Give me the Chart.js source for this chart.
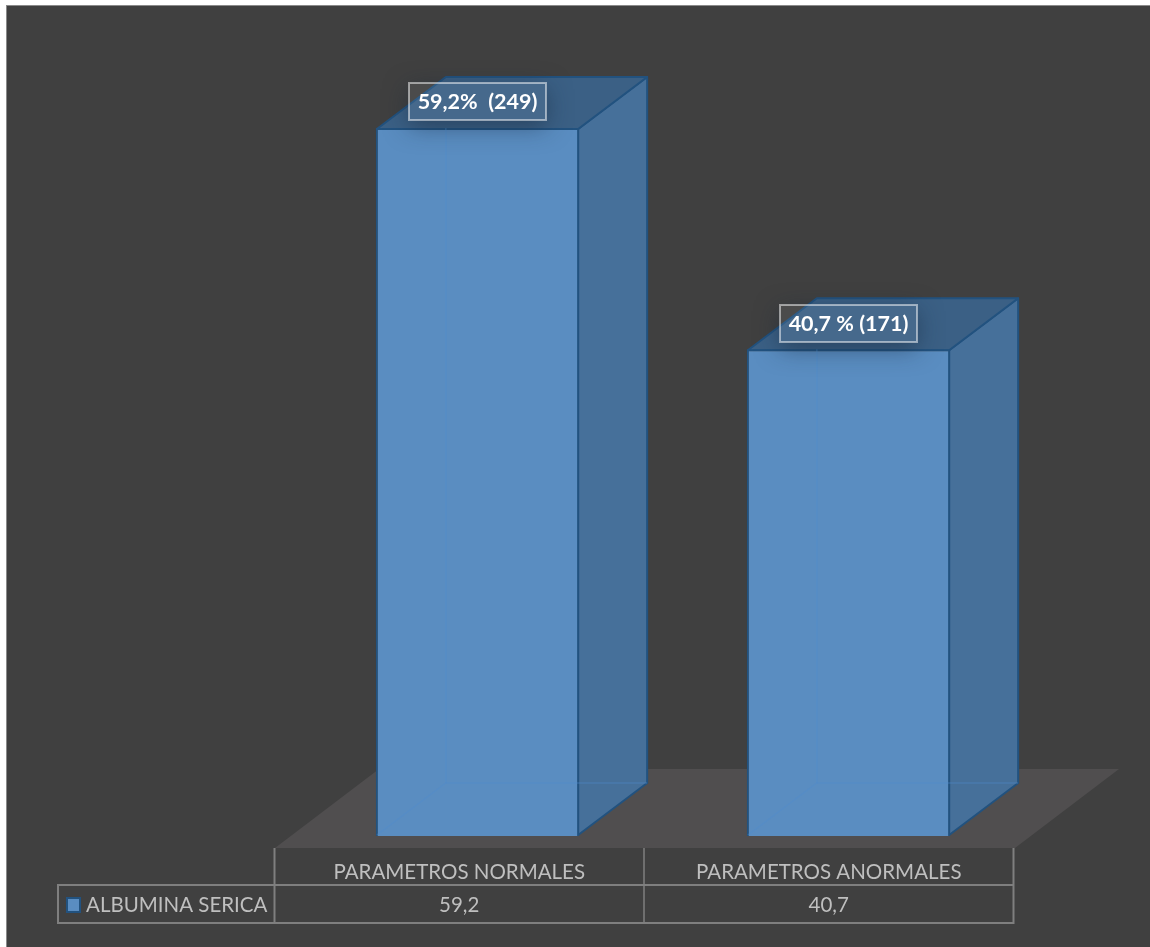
<!DOCTYPE html>
<html>
<head>
<meta charset="utf-8">
<script src="https://cdn.jsdelivr.net/npm/chart.js@4/dist/chart.umd.min.js"></script>
<style>
html,body{margin:0;padding:0;background:#fff;overflow:hidden}
#wrap{position:absolute;left:0;top:0;width:1150px;height:947px}
</style>
</head>
<body>
<div id="wrap"><canvas id="c" width="1150" height="947"></canvas></div>
<script>
const categories = ['PARAMETROS NORMALES', 'PARAMETROS ANORMALES'];
const seriesName = 'ALBUMINA SERICA';
const seriesValues = [59.2, 40.7];
const tableValues = ['59,2', '40,7'];
const dataLabels = ['59,2%  (249)', '40,7 % (171)'];

const DX = 69, DY = -52;
const EDGE = '#22527f';
const FONT = 'Lato, Carlito, sans-serif';

function poly(ctx, pts, fill, stroke, lw) {
  ctx.beginPath();
  pts.forEach((p, i) => i ? ctx.lineTo(p[0], p[1]) : ctx.moveTo(p[0], p[1]));
  ctx.closePath();
  if (fill) { ctx.fillStyle = fill; ctx.fill(); }
  if (stroke) { ctx.strokeStyle = stroke; ctx.lineWidth = lw || 2; ctx.lineJoin = 'round'; ctx.stroke(); }
}
function line(ctx, x1, y1, x2, y2, col, lw) {
  ctx.beginPath(); ctx.moveTo(x1, y1); ctx.lineTo(x2, y2);
  ctx.strokeStyle = col; ctx.lineWidth = lw; ctx.stroke();
}

const scene = {
  id: 'scene',
  beforeDraw(chart) {
    const ctx = chart.ctx;
    ctx.save();
    // page and chart frame
    ctx.fillStyle = '#ffffff'; ctx.fillRect(0, 0, 1150, 947);
    ctx.fillStyle = '#404040'; ctx.fillRect(7, 6, 1143, 941);
    ctx.fillStyle = '#8a8a8a'; ctx.fillRect(6, 5, 1144, 1); ctx.fillRect(6, 5, 1, 942);
    // floor
    poly(ctx, [[275, 848], [1015, 848], [1119, 769], [379, 769]], '#504e4f');
    ctx.restore();
  },
  beforeDatasetsDraw(chart) {
    const ctx = chart.ctx;
    ctx.save();
    chart.getDatasetMeta(0).data.forEach(b => {
      const l = b.x - b.width / 2 + 1, r = b.x + b.width / 2 - 1, t = b.y + 1, bt = b.base - 1;
      poly(ctx, [[r, t], [r + DX, t + DY], [r + DX, bt + DY], [r, bt]], '#46709a', EDGE, 2);
      poly(ctx, [[l, t], [l + DX, t + DY], [r + DX, t + DY], [r, t]], '#3b6085', EDGE, 2);
    });
    ctx.restore();
  },
  afterDatasetsDraw(chart) {
    const ctx = chart.ctx;
    ctx.save();
    const meta = chart.getDatasetMeta(0);
    meta.data.forEach((b, i) => {
      const l = b.x - b.width / 2 + 1, r = b.x + b.width / 2 - 1, t = b.y, bt = b.base - 1;
      const c = 'rgba(80,140,205,0.38)';
      // faint back edges seen through the translucent box
      line(ctx, l + DX, t, l + DX, bt + DY, c, 1.5);
      line(ctx, l + DX, bt + DY, r + DX, bt + DY, c, 1.5);
      line(ctx, l, bt, l + DX, bt + DY, c, 1.5);
      // data label with soft shadow
      const w = 137, h = 37, x = b.x - w / 2, y = Math.round(t - 44.5);
      ctx.save();
      ctx.beginPath();
      ctx.rect(l - 40, t - 80, b.width + 80, 140);
      ctx.rect(x, y, w, h);
      ctx.clip('evenodd');
      ctx.shadowColor = 'rgba(20,35,55,0.5)';
      ctx.shadowBlur = 24;
      ctx.shadowOffsetY = 6;
      ctx.fillStyle = '#3b6085';
      ctx.fillRect(x, y, w, h);
      ctx.restore();
      ctx.fillStyle = 'rgba(255,255,255,0.06)';
      ctx.fillRect(x, y, w, h);
      ctx.strokeStyle = 'rgba(255,255,255,0.5)';
      ctx.lineWidth = 2;
      ctx.strokeRect(x, y, w, h);
      ctx.fillStyle = '#ffffff';
      ctx.font = 'bold 21.5px ' + FONT;
      ctx.textAlign = 'center';
      ctx.textBaseline = 'middle';
      ctx.fillText(dataLabels[i], b.x, y + h / 2 + 1);
    });
    ctx.restore();
  },
  afterDraw(chart) {
    const ctx = chart.ctx;
    const xs = [274.5, 644, 1013.5];
    ctx.save();
    const grid = '#7f7f7f';
    // data table grid
    line(ctx, 58, 885, 1014, 885, grid, 2);
    line(ctx, 58, 923, 1014, 923, grid, 2);
    line(ctx, 58, 884, 58, 924, grid, 2);
    line(ctx, xs[0], 848, xs[0], 924, grid, 2);
    line(ctx, xs[1], 848, xs[1], 924, grid, 1.5);
    line(ctx, xs[2], 848, xs[2], 924, grid, 2);
    // legend key
    ctx.fillStyle = '#5a8dc1'; ctx.fillRect(67, 898, 13, 14);
    ctx.strokeStyle = EDGE; ctx.lineWidth = 2; ctx.strokeRect(67, 898, 13, 14);
    ctx.fillStyle = '#bfbfbf';
    ctx.font = '20.5px ' + FONT;
    ctx.textBaseline = 'middle';
    ctx.textAlign = 'left';
    ctx.fillText(seriesName, 86, 905);
    ctx.textAlign = 'center';
    categories.forEach((c, i) => {
      const cx = (xs[i] + xs[i + 1]) / 2;
      ctx.fillText(c, cx, 872);
      ctx.fillText(tableValues[i], cx, 905);
    });
    ctx.restore();
  }
};

new Chart(document.getElementById('c'), {
  type: 'bar',
  data: {
    labels: categories,
    datasets: [{
      label: seriesName,
      data: seriesValues,
      backgroundColor: '#5a8dc1',
      borderColor: EDGE,
      borderWidth: 2,
      categoryPercentage: 0.548,
      barPercentage: 1
    }]
  },
  options: {
    responsive: false,
    animation: false,
    events: [],
    layout: { padding: { left: 292, right: 116, top: 0, bottom: 111 } },
    plugins: { legend: { display: false }, tooltip: { enabled: false }, title: { display: false } },
    scales: {
      x: { display: false },
      y: { display: false, min: 0, max: 69.9 }
    }
  },
  plugins: [scene]
});
</script>
</body>
</html>
